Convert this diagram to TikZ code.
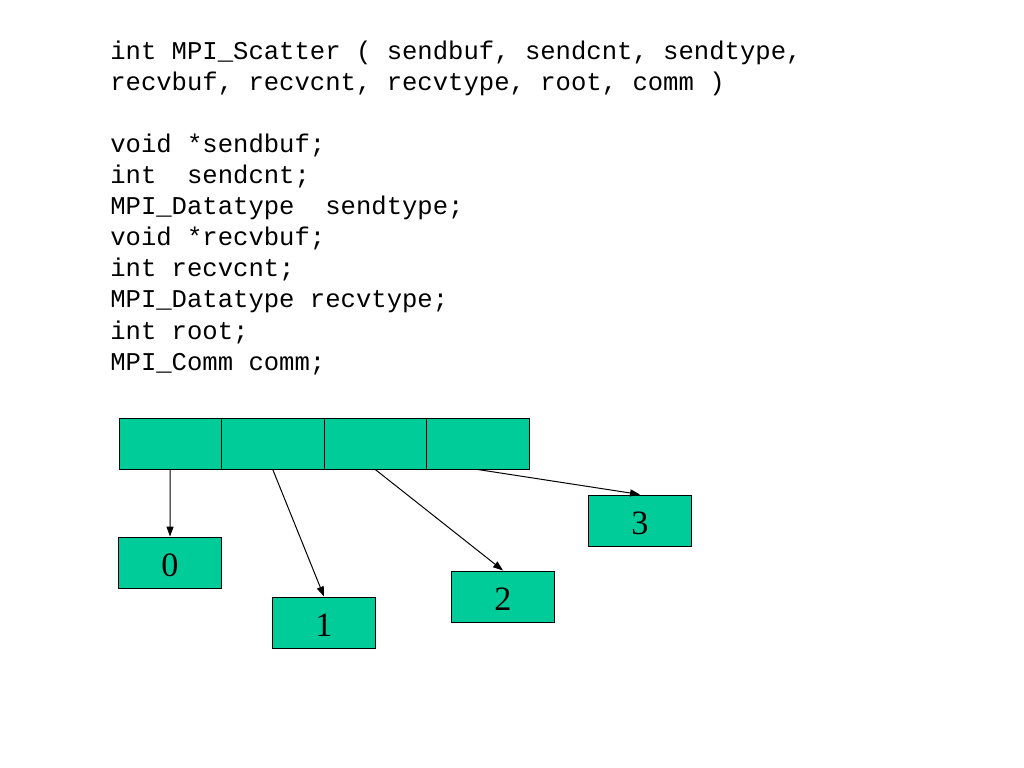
\documentclass[tikz,border=0pt]{standalone}
\usepackage{fontspec}
\setmainfont{Liberation Serif}
\setmonofont{Liberation Mono}
\usetikzlibrary{arrows.meta}
\definecolor{cellgreen}{RGB}{0,204,153}
\begin{document}
\begin{tikzpicture}[x=0.703125pt,y=-0.703125pt,
  code/.style={anchor=base west,inner sep=0pt,font=\ttfamily\fontsize{18pt}{21.8pt}\selectfont},
  cell/.style={draw=black,fill=cellgreen,line width=0.7pt,minimum width=72.07pt,minimum height=35.86pt,inner sep=0pt},
  rank/.style={cell,font=\fontsize{24pt}{28pt}\selectfont,text height=20pt,text depth=0pt},
  link/.style={draw=black,line width=0.7pt,-{Triangle[length=7pt,width=5pt]}}]
\useasboundingbox (0,0) rectangle (1024,768);
\node[code] (l1) at (110,60) {int MPI\_Scatter ( sendbuf, sendcnt, sendtype,};
\node[code] (l2) at (110,91) {recvbuf, recvcnt, recvtype, root, comm )};
\node[code] (l3) at (110,153) {void *sendbuf;};
\node[code] (l4) at (110,184) {int\ \ sendcnt;};
\node[code] (l5) at (110,215) {MPI\_Datatype\ \ sendtype;};
\node[code] (l6) at (110,246) {void *recvbuf;};
\node[code] (l7) at (110,277) {int recvcnt;};
\node[code] (l8) at (110,308) {MPI\_Datatype recvtype;};
\node[code] (l9) at (110,339) {int root;};
\node[code] (l10) at (110,370) {MPI\_Comm comm;};
\node[cell] (c0) at (170.25,443.5) {};
\node[cell] (c1) at (272.75,443.5) {};
\node[cell] (c2) at (375.25,443.5) {};
\node[cell] (c3) at (477.75,443.5) {};
\node[rank] (b0) at (170,562.5) {0};
\node[rank] (b1) at (324,622.5) {1};
\node[rank] (b2) at (503,596.5) {2};
\node[rank] (b3) at (640,520.5) {3};
\draw[link] (c0.south) -- (b0.north);
\draw[link] (c1.south) -- (b1.north);
\draw[link] (c2.south) -- (b2.north);
\draw[link] (c3.south) -- (b3.north);
\end{tikzpicture}
\end{document}
